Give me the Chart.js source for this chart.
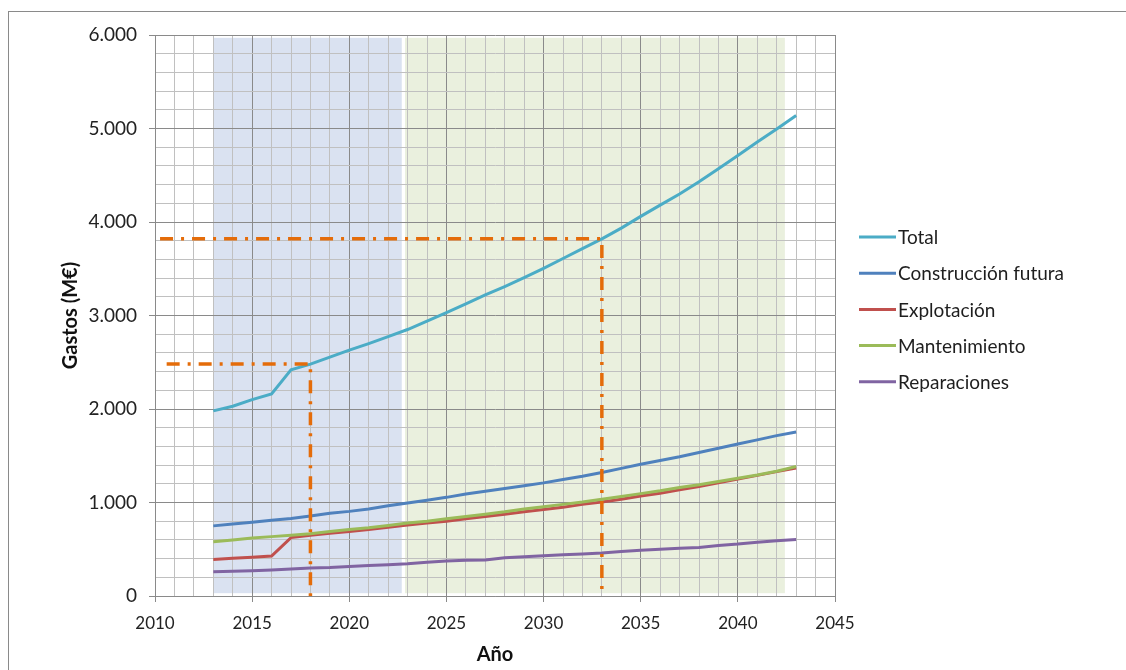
<!DOCTYPE html>
<html>
<head>
<meta charset="utf-8">
<script src="https://cdn.jsdelivr.net/npm/chart.js@4.4.1/dist/chart.umd.min.js"></script>
<style>
  html, body { margin: 0; padding: 0; background: #ffffff; }
  #wrap { width: 1126px; height: 670px; position: relative; }
</style>
</head>
<body>
<div id="wrap"><canvas id="c" width="1126" height="670"></canvas></div>
<script>
// ---- Data ----
const years = [2013,2014,2015,2016,2017,2018,2019,2020,2021,2022,2023,2024,2025,2026,2027,2028,2029,2030,2031,2032,2033,2034,2035,2036,2037,2038,2039,2040,2041,2042,2043];
const total = [1980,2030,2100,2160,2420,2480,2555,2630,2700,2775,2850,2940,3030,3125,3220,3310,3405,3505,3610,3715,3820,3935,4060,4180,4300,4430,4570,4710,4855,4995,5140];
const construccion = [750,770,790,810,830,855,885,905,930,965,995,1025,1055,1090,1120,1150,1180,1210,1245,1280,1320,1365,1410,1450,1490,1535,1580,1625,1670,1715,1755];
const explotacion = [390,403,415,428,625,650,670,690,710,735,760,780,800,825,850,875,900,925,950,980,1005,1035,1070,1100,1135,1170,1210,1250,1290,1330,1370];
const mantenimiento = [580,600,620,635,650,665,690,710,730,755,780,800,825,850,875,900,930,955,980,1005,1035,1065,1095,1125,1160,1190,1225,1260,1295,1335,1385];
const reparaciones = [260,265,270,278,290,300,305,315,325,335,345,360,375,382,385,410,420,430,440,450,460,475,490,500,510,520,540,555,575,590,605];
const seriesNames = ['Total','Construcción futura','Explotación','Mantenimiento','Reparaciones'];

// reference (dash-dot) lines: start year of horizontal, target year, value
const refStartYears = [2010.6, 2010.26];
const refYears = [2018, 2033];
const refValues = [2480, 3820];

// shaded periods: [from year, to year]
const shadeFrom = [2013, 2022.87];
const shadeTo = [2022.7, 2042.42];
const shadeTopValue = 5970;
const shadeBottomValue = 30;

// tick labels
const xTickLabels = ['2010','2015','2020','2025','2030','2035','2040','2045'];
const yTickLabels = ['0','1.000','2.000','3.000','4.000','5.000','6.000'];

// ---- Styles ----
const colors = ['#4BACC6','#4F81BD','#C0504D','#9BBB59','#8064A2'];
const shadeColors = ['rgba(218,226,241,1)','rgba(234,240,222,1)'];
const orange = '#E46C0A';
const FONT = 'Lato, "Open Sans", sans-serif';

const seriesValues = [total, construccion, explotacion, mantenimiento, reparaciones];
const datasets = seriesValues.map((vals, i) => ({
  label: seriesNames[i],
  data: years.map((y, k) => ({x: y, y: vals[k]})),
  borderColor: colors[i],
  backgroundColor: colors[i],
  borderWidth: 3,
  pointRadius: 0,
  tension: 0,
  fill: false,
  order: 5 - i,
  isSeries: true
}));
refYears.forEach((yr, i) => {
  datasets.push({
    label: 'ref' + i,
    data: [{x: refStartYears[i], y: refValues[i]}, {x: yr, y: refValues[i]}, {x: yr, y: 0}],
    borderColor: orange,
    borderWidth: 3.5,
    borderDash: [13, 8, 3, 8],
    borderCapStyle: 'butt',
    pointRadius: 0,
    tension: 0,
    fill: false,
    order: 0,
    isSeries: false
  });
});

const bgPlugin = {
  id: 'bg',
  beforeDraw(chart) {
    const {ctx, scales: {x, y}} = chart;
    ctx.save();
    // outer frame
    ctx.strokeStyle = '#8a8a8a';
    ctx.lineWidth = 1;
    ctx.strokeRect(8.5, 11.5, 1200, 700);
    // shaded periods
    for (let i = 0; i < shadeFrom.length; i++) {
      const x0 = x.getPixelForValue(shadeFrom[i]);
      const x1 = x.getPixelForValue(shadeTo[i]);
      const y0 = y.getPixelForValue(shadeTopValue);
      const y1 = y.getPixelForValue(shadeBottomValue);
      ctx.fillStyle = shadeColors[i];
      ctx.fillRect(x0, y0, x1 - x0, y1 - y0);
    }
    ctx.restore();
  },
  afterDraw(chart) {
    // legend
    const ctx = chart.ctx;
    ctx.save();
    ctx.font = '19px ' + FONT;
    ctx.textBaseline = 'middle';
    ctx.textAlign = 'left';
    const items = chart.data.datasets.filter(d => d.isSeries);
    items.forEach((d, i) => {
      const yy = 237 + i * 36.2;
      ctx.strokeStyle = d.borderColor;
      ctx.lineWidth = 3;
      ctx.beginPath();
      ctx.moveTo(859, yy);
      ctx.lineTo(896, yy);
      ctx.stroke();
      ctx.fillStyle = '#1e1e1e';
      ctx.fillText(d.label, 898, yy + 1);
    });
    ctx.restore();
  }
};

new Chart(document.getElementById('c'), {
  type: 'line',
  data: { datasets },
  plugins: [bgPlugin],
  options: {
    responsive: false,
    animation: false,
    devicePixelRatio: 1,
    layout: { padding: { top: 35, right: 291, left: 0, bottom: 0 } },
    plugins: { legend: { display: false }, tooltip: { enabled: false } },
    scales: {
      x: {
        type: 'linear',
        min: 2010, max: 2045,
        afterBuildTicks(scale) {
          const t = [];
          for (let v = 2010; v <= 2045; v++) t.push({value: v});
          scale.ticks = t;
        },
        afterFit(scale) { scale.height = 74; },
        ticks: {
          autoSkip: false,
          maxRotation: 0,
          padding: 11,
          color: '#222',
          font: { family: FONT, size: 17 },
          callback(v) { return (v % 5 === 0) ? xTickLabels[(v - 2010) / 5] : ''; }
        },
        grid: {
          color: (c) => (c.tick && c.tick.value % 5 === 0) ? '#8a8a8a' : '#c0c0c0',
          tickColor: (c) => (c.tick && c.tick.value % 5 === 0) ? '#8a8a8a' : 'rgba(0,0,0,0)',
          tickLength: 6,
          lineWidth: 1
        },
        border: { color: '#8a8a8a', width: 1 },
        title: {
          display: true, text: 'Año', color: '#111',
          font: { family: FONT, size: 20, weight: 'bold' },
          padding: { top: 0, bottom: 3 }
        }
      },
      y: {
        min: 0, max: 6000,
        afterBuildTicks(scale) {
          const t = [];
          for (let v = 0; v <= 6000; v += 200) t.push({value: v});
          scale.ticks = t;
        },
        afterFit(scale) { scale.width = 155; },
        ticks: {
          autoSkip: false,
          padding: 12,
          color: '#222',
          font: { family: FONT, size: 19 },
          callback(v) { return (v % 1000 === 0) ? yTickLabels[v / 1000] : ''; }
        },
        grid: {
          color: (c) => (c.tick && c.tick.value % 1000 === 0) ? '#8a8a8a' : '#c0c0c0',
          tickColor: (c) => (c.tick && c.tick.value % 1000 === 0) ? '#8a8a8a' : 'rgba(0,0,0,0)',
          tickLength: 6,
          lineWidth: 1
        },
        border: { color: '#8a8a8a', width: 1 },
        title: {
          display: true, text: 'Gastos (M€)', color: '#111',
          font: { family: FONT, size: 20, weight: 'bold' },
          padding: { top: 59, bottom: 0 }
        }
      }
    }
  }
});
</script>
</body>
</html>
